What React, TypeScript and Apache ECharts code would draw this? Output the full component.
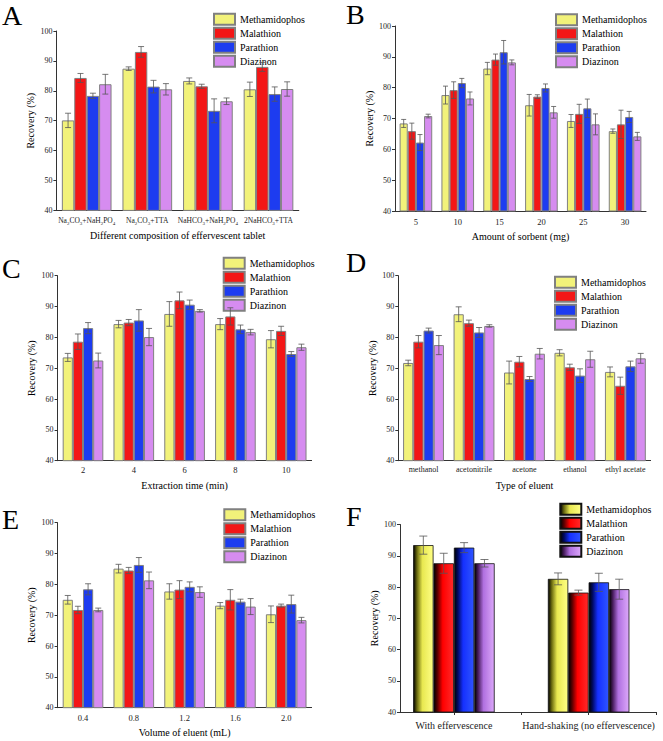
import React, { useEffect, useRef } from "react";
import * as echarts from "echarts";

const FONT = "Liberation Serif";

const pesticides = ["Methamidophos", "Malathion", "Parathion", "Diazinon"];
const colors = ["#f2f27a", "#f31616", "#1d3cf0", "#d68cf0"];

// Panel A
const catsA = ["Na2CO3+NaH2PO4", "Na2CO3+TTA", "NaHCO3+NaH2PO4", "2NaHCO3+TTA"];
const valsA = [
  [70.1, 87.4, 83.3, 80.5],
  [84.3, 93.0, 81.5, 88.0],
  [78.3, 81.4, 73.3, 78.9],
  [82.2, 80.5, 76.5, 80.6],
];
const errsA = [
  [2.4, 0.6, 1.0, 2.4],
  [1.5, 1.8, 0.7, 1.5],
  [0.9, 2.1, 4.0, 2.4],
  [3.3, 1.9, 1.1, 2.4],
];

// Panel B
const catsB = ["5", "10", "15", "20", "25", "30"];
const valsB = [
  [68.4, 77.6, 86.2, 74.3, 69.2, 65.9],
  [65.9, 79.2, 89.1, 77.1, 71.5, 68.1],
  [62.2, 81.5, 91.5, 79.9, 73.3, 70.5],
  [70.8, 76.5, 88.2, 72.0, 68.1, 64.2],
];
const errsB = [
  [1.3, 2.9, 2.0, 3.5, 2.1, 0.7],
  [2.6, 2.7, 1.8, 0.6, 3.1, 4.6],
  [2.6, 1.5, 3.8, 1.3, 3.0, 1.8],
  [0.6, 2.1, 0.8, 1.9, 3.4, 1.3],
];

// Panel C
const catsC = ["2", "4", "6", "8", "10"];
const valsC = [
  [73.5, 84.3, 87.6, 84.3, 79.4],
  [78.6, 84.8, 92.0, 86.8, 82.1],
  [83.0, 85.5, 90.6, 82.6, 74.6],
  [72.5, 80.1, 88.6, 81.7, 76.8],
];
const errsC = [
  [1.3, 1.2, 4.0, 1.8, 2.8],
  [2.5, 1.0, 2.7, 2.8, 1.5],
  [1.8, 3.5, 1.5, 1.4, 0.8],
  [2.4, 2.8, 0.4, 0.9, 1.0],
];

// Panel D
const catsD = ["methanol", "acetonitrile", "acetone", "ethanol", "ethyl acetate"];
const valsD = [
  [71.7, 87.5, 68.6, 75.0, 68.8],
  [78.6, 84.6, 72.1, 70.3, 64.3],
  [82.2, 81.6, 66.5, 67.6, 70.6],
  [77.5, 83.7, 74.7, 72.9, 73.2],
];
const errsD = [
  [0.9, 2.4, 3.7, 1.0, 1.6],
  [2.0, 1.0, 1.7, 1.0, 2.8],
  [0.8, 1.6, 0.8, 2.2, 1.7],
  [3.1, 0.4, 1.7, 2.6, 1.6],
];

// Panel E
const catsE = ["0.4", "0.8", "1.2", "1.6", "2.0"];
const valsE = [
  [75.0, 85.1, 77.7, 73.1, 70.3],
  [71.7, 84.5, 78.3, 75.0, 73.1],
  [78.4, 86.3, 79.2, 74.4, 73.6],
  [71.7, 81.3, 77.5, 72.8, 68.4],
];
const errsE = [
  [1.4, 1.4, 2.5, 1.0, 2.7],
  [1.2, 1.0, 2.9, 3.3, 0.5],
  [1.8, 2.4, 1.6, 0.8, 2.9],
  [0.6, 2.7, 1.7, 2.6, 0.9],
];

// Panel F
const catsF = ["With effervescence", "Hand-shaking (no effervescence)"];
const valsF = [
  [93.4, 82.6],
  [87.6, 78.2],
  [92.6, 81.5],
  [87.6, 79.3],
];
const errsF = [
  [2.9, 1.9],
  [3.2, 0.8],
  [1.6, 2.9],
  [1.2, 3.2],
];

const yTicks = { min: 40, max: 100, interval: 10 };

type Panel = {
  letter: string;
  cats: string[];
  vals: number[][];
  errs: number[][];
  xName: string;
  grid: number[];
  gap: number;
  legend: number[];
  title: number[];
  labelMargin: number;
  labelSize: number;
  cap: number;
  valueX?: boolean;
  chem?: boolean;
};

const panels: Panel[] = [
  { letter: "A", cats: catsA, vals: valsA, errs: errsA, xName: "Different composition of effervescent tablet",
    grid: [56.4, 31, 242.4, 179.4], gap: 0.18, legend: [213, 12.7], title: [2, 1], labelMargin: 5, labelSize: 7.5, cap: 3, chem: true },
  { letter: "B", cats: catsB, vals: valsB, errs: errsB, xName: "Amount of sorbent (mg)",
    grid: [395, 26, 251, 185], gap: 0.22, legend: [555, 13.3], title: [346, 0], labelMargin: 6, labelSize: 8.5, cap: 2.5 },
  { letter: "C", cats: catsC, vals: valsC, errs: errsC, xName: "Extraction time (min)",
    grid: [57.6, 275.7, 254, 185], gap: 0.2, legend: [222.7, 256.7], title: [2, 254], labelMargin: 5, labelSize: 8.5, cap: 3 },
  { letter: "D", cats: catsD, vals: valsD, errs: errsD, xName: "Type of eluent",
    grid: [398.3, 275.7, 252.3, 185], gap: 0.19, legend: [554, 275.7], title: [346, 248], labelMargin: 5, labelSize: 8, cap: 3 },
  { letter: "E", cats: catsE, vals: valsE, errs: errsE, xName: "Volume of eluent (mL)",
    grid: [57.6, 522.7, 254, 185], gap: 0.2, legend: [223.3, 508.3], title: [2, 505], labelMargin: 6, labelSize: 8.5, cap: 3 },
  { letter: "F", cats: catsF, vals: valsF, errs: errsF, xName: "",
    grid: [400, 524.5, 256, 187.5], gap: 0.395, legend: [559.3, 502.7], title: [346, 502], labelMargin: 8, labelSize: 10, cap: 4, valueX: true },
];

const fGrad = [
  ["#000000", "#6b6b10", "#e8e850", "#ffff85"],
  ["#000000", "#5a0000", "#ff0000", "#ff2a2a"],
  ["#000000", "#000a60", "#1530ff", "#2f55ff"],
  ["#000000", "#4a1e60", "#b070e0", "#dca8fa"],
];

const gradient = (k: number) => ({
  type: "linear", x: 0, y: 0, x2: 1, y2: 0,
  colorStops: [
    { offset: 0, color: fGrad[k][0] },
    { offset: 0.18, color: fGrad[k][1] },
    { offset: 0.45, color: fGrad[k][2] },
    { offset: 1, color: fGrad[k][3] },
  ],
});

const makeErr = (k: number, gapFrac: number, cap: number) => (params: any, api: any) => {
  const xv = api.value(0);
  const lo = api.value(1);
  const hi = api.value(2);
  const band = api.size([1, 0])[0];
  const bw = (band * (1 - gapFrac)) / 4;
  const pLo = api.coord([xv, lo]);
  const pHi = api.coord([xv, hi]);
  const x = pLo[0] + (k - 1.5) * bw;
  const style = { stroke: "#555", lineWidth: 0.8 };
  return {
    type: "group",
    children: [
      { type: "line", shape: { x1: x, y1: pLo[1], x2: x, y2: pHi[1] }, style },
      { type: "line", shape: { x1: x - cap, y1: pLo[1], x2: x + cap, y2: pLo[1] }, style },
      { type: "line", shape: { x1: x - cap, y1: pHi[1], x2: x + cap, y2: pHi[1] }, style },
    ],
  };
};

const chemFmt = (s: string) => s.replace(/([A-Za-z])(\d)/g, "$1{s|$2}");

function buildOption() {
  const grid: any[] = [];
  const xAxis: any[] = [];
  const yAxis: any[] = [];
  const series: any[] = [];
  const legend: any[] = [];
  const title: any[] = [];
  const axisLine = { lineStyle: { color: "#333", width: 1 } };

  panels.forEach((p, pi) => {
    grid.push({ left: p.grid[0], top: p.grid[1], width: p.grid[2], height: p.grid[3], containLabel: false, outerBoundsMode: "none" });
    title.push({ text: p.letter, left: p.title[0], top: p.title[1], padding: 0,
      textStyle: { fontFamily: FONT, fontSize: 28, fontWeight: "normal", color: "#000" } });
    const labelBase: any = { fontFamily: FONT, fontSize: p.labelSize, color: "#222", margin: p.labelMargin };
    if (p.valueX) {
      xAxis.push({
        type: "value", gridIndex: pi, min: 0.6, max: 2.5, splitLine: { show: false }, axisLine,
        axisTick: { customValues: [1, 1.5, 2, 2.5], length: 3, lineStyle: { color: "#333" } },
        axisLabel: { ...labelBase, customValues: [1, 2],
          formatter: (v: number) => (Number.isInteger(v) && p.cats[v - 1]) ? p.cats[v - 1] : "" },
      });
    } else {
      xAxis.push({
        type: "category", gridIndex: pi, data: p.cats, axisLine,
        axisTick: { alignWithLabel: true, length: 3, lineStyle: { color: "#333" } },
        axisLabel: p.chem
          ? { ...labelBase, interval: 0, lineHeight: 11, formatter: (v: string) => chemFmt(v),
              rich: { s: { fontFamily: FONT, fontSize: 5, color: "#222", lineHeight: 11, verticalAlign: "bottom" } } }
          : { ...labelBase, interval: 0 },
        name: p.xName, nameLocation: "middle", nameGap: 20,
        nameTextStyle: { fontFamily: FONT, fontSize: 10, color: "#000" },
      });
    }
    yAxis.push({
      type: "value", gridIndex: pi, ...yTicks, splitLine: { show: false }, axisLine: { show: true, ...axisLine },
      axisTick: { show: true, length: 3, lineStyle: { color: "#333" } },
      axisLabel: { fontFamily: FONT, fontSize: 8, color: "#222", margin: 4 },
      name: "Recovery (%)", nameLocation: "middle", nameGap: 21,
      nameTextStyle: { fontFamily: FONT, fontSize: 10, color: "#000" },
    });
    pesticides.forEach((name, k) => {
      series.push({
        type: "bar", name: p.letter + "|" + name, xAxisIndex: pi, yAxisIndex: pi,
        data: p.valueX ? p.vals[k].map((v, i) => [i + 1, v]) : p.vals[k],
        barGap: "0%", barCategoryGap: (p.gap * 100).toFixed(1) + "%",
        itemStyle: p.valueX
          ? { color: gradient(k), borderColor: "#111", borderWidth: 0.8 }
          : { color: colors[k], borderColor: "#808080", borderWidth: 1 },
      });
    });
    pesticides.forEach((_, k) => {
      series.push({
        type: "custom", xAxisIndex: pi, yAxisIndex: pi, silent: true, z: 5,
        data: p.vals[k].map((v, i) => [p.valueX ? i + 1 : i, v - p.errs[k][i], v + p.errs[k][i]]),
        encode: { x: 0, y: [1, 2] },
        renderItem: makeErr(k, p.gap, p.cap),
      });
    });
    legend.push({
      left: p.legend[0], top: p.legend[1], orient: "vertical", padding: 0,
      itemWidth: 21, itemHeight: 11, itemGap: 1, icon: "rect", selectedMode: false,
      data: pesticides.map((n) => p.letter + "|" + n),
      formatter: (n: string) => n.split("|")[1],
      textStyle: { fontFamily: FONT, fontSize: 10, color: "#000", lineHeight: 11 },
    });
  });

  return { animation: false, backgroundColor: "#fff", textStyle: { fontFamily: FONT },
    grid, xAxis, yAxis, series, legend, title };
}

export default function App() {
  const ref = useRef<HTMLDivElement>(null);
  useEffect(() => {
    document.body.style.margin = "0";
    if (!ref.current) return;
    const chart = echarts.init(ref.current, undefined, { renderer: "svg" });
    chart.setOption(buildOption() as any);
    return () => chart.dispose();
  }, []);
  return <div ref={ref} style={{ width: 663, height: 741 }} />;
}
